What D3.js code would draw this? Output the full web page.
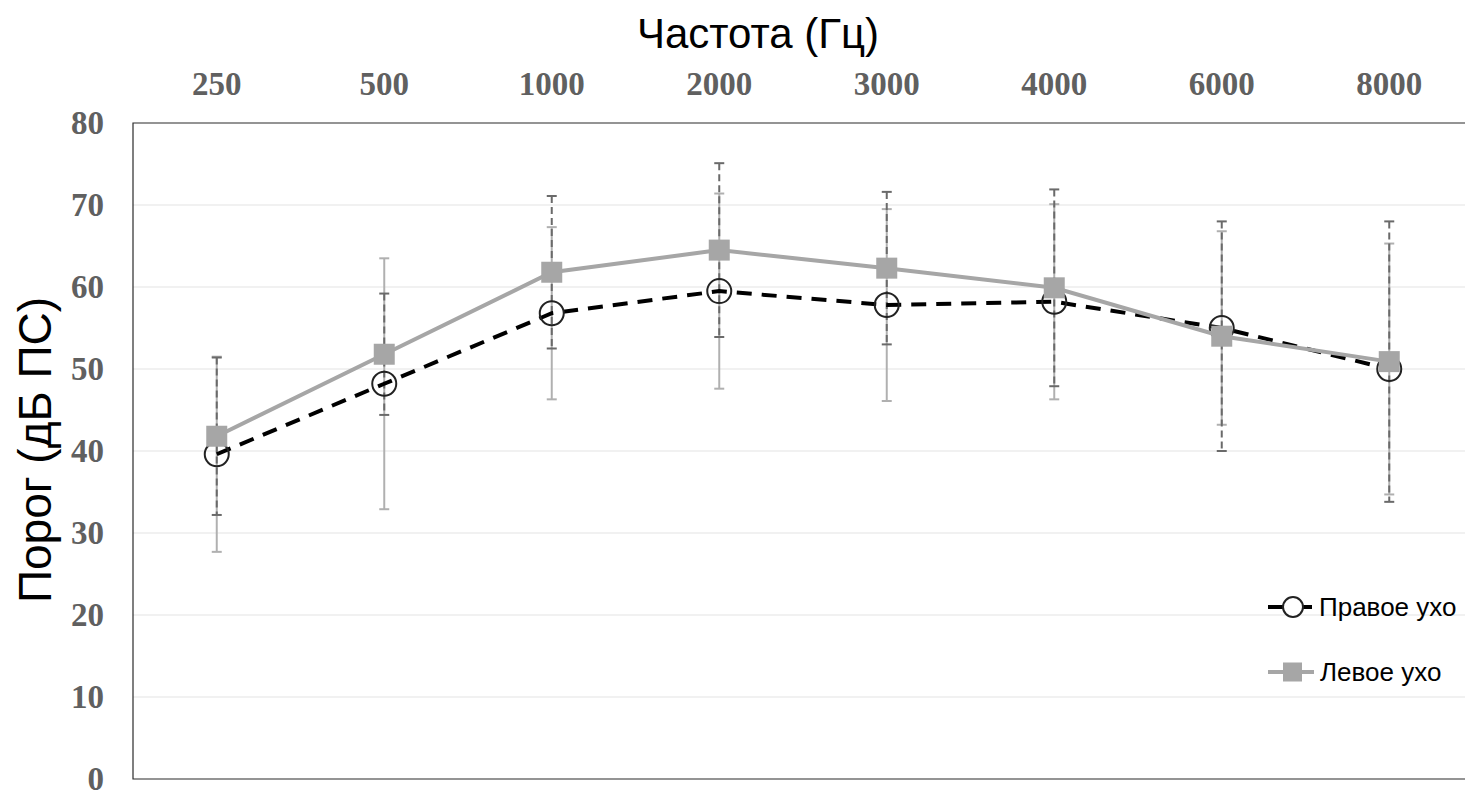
<!DOCTYPE html>
<html>
<head>
<meta charset="utf-8">
<script src="https://cdn.jsdelivr.net/npm/d3@7"></script>
<style>
  html, body { margin: 0; padding: 0; background: #fff; }
  svg { display: block; }
</style>
</head>
<body>
<svg id="chart" width="1465" height="792"></svg>
<script>
// Audiometric thresholds by frequency, mean ± SD
const frequencies = ["250", "500", "1000", "2000", "3000", "4000", "6000", "8000"];
const rightEarMean = [39.6, 48.2, 56.8, 59.5, 57.8, 58.2, 55.0, 50.0];
const rightEarSD   = [11.9, 15.3, 10.5, 11.9, 11.7, 11.9, 11.8, 15.3];
const leftEarMean  = [41.8, 51.8, 61.8, 64.5, 62.3, 59.9, 54.0, 50.9];
const leftEarSD    = [9.6, 7.4, 9.3, 10.6, 9.3, 12.0, 14.0, 17.1];
const yTicks = [0, 10, 20, 30, 40, 50, 60, 70, 80];
const seriesNames = ["Правое ухо", "Левое ухо"];

const svg = d3.select("#chart");
const margin = { left: 133, top: 123, right: -8, bottom: 13 };
const W = 1465, H = 792;
const x0 = margin.left, x1 = W - margin.right;
const y0 = H - margin.bottom, y1 = margin.top;

const x = d3.scaleBand().domain(frequencies).range([x0, x1]).padding(0);
const y = d3.scaleLinear().domain([0, 80]).range([y0, y1]);
const cx = f => x(f) + x.bandwidth() / 2;

// gridlines
svg.append("g")
  .selectAll("line")
  .data(yTicks.filter(t => t > 0 && t < 80))
  .join("line")
  .attr("x1", x0).attr("x2", x1)
  .attr("y1", d => y(d)).attr("y2", d => y(d))
  .attr("stroke", "#ececec").attr("stroke-width", 1.5);

// frame
svg.append("path")
  .attr("d", `M${x1},${y1}H${x0}V${y0}H${x1}`)
  .attr("fill", "none").attr("stroke", "#2b2b2b").attr("stroke-width", 1.2);

// axes
const tickFont = "'Liberation Serif', 'Times New Roman', serif";
const yAxis = d3.axisLeft(y).tickValues(yTicks).tickSize(0).tickPadding(29);
const gy = svg.append("g").attr("transform", `translate(${x0},0)`).call(yAxis);
gy.select(".domain").remove();
gy.selectAll("text")
  .attr("font-family", tickFont)
  .attr("font-weight", "bold").attr("font-size", 33).attr("fill", "#606060")
  .attr("dy", "0.32em");

const xAxis = d3.axisTop(x).tickSize(0).tickPadding(28);
const gx = svg.append("g").attr("transform", `translate(0,${y1})`).call(xAxis);
gx.select(".domain").remove();
gx.selectAll("text")
  .attr("font-family", tickFont)
  .attr("font-weight", "bold").attr("font-size", 33).attr("fill", "#606060");

// axis titles
svg.append("text")
  .attr("x", 758).attr("y", 48)
  .attr("text-anchor", "middle")
  .attr("font-family", "'Liberation Sans', Arial, sans-serif")
  .attr("font-size", 42).attr("fill", "#000")
  .text("Частота (Гц)");

svg.append("text")
  .attr("transform", `translate(51,450) rotate(-90)`)
  .attr("text-anchor", "middle")
  .attr("font-family", "'Liberation Sans', Arial, sans-serif")
  .attr("font-size", 46).attr("fill", "#000")
  .text("Порог (дБ ПС)");

const rightData = frequencies.map((f, i) => ({ f, m: rightEarMean[i], s: rightEarSD[i] }));
const leftData  = frequencies.map((f, i) => ({ f, m: leftEarMean[i], s: leftEarSD[i] }));

// error bars
function errorBars(data, color, dash) {
  const g = svg.append("g").attr("stroke", color).attr("stroke-width", 2).attr("fill", "none");
  g.selectAll("line.v").data(data).join("line").attr("class", "v")
    .attr("x1", d => cx(d.f)).attr("x2", d => cx(d.f))
    .attr("y1", d => y(d.m + d.s)).attr("y2", d => y(d.m - d.s))
    .attr("stroke-dasharray", dash);
  const capW = 5;
  g.selectAll("line.top").data(data).join("line").attr("class", "top")
    .attr("x1", d => cx(d.f) - capW).attr("x2", d => cx(d.f) + capW)
    .attr("y1", d => y(d.m + d.s)).attr("y2", d => y(d.m + d.s));
  g.selectAll("line.bot").data(data).join("line").attr("class", "bot")
    .attr("x1", d => cx(d.f) - capW).attr("x2", d => cx(d.f) + capW)
    .attr("y1", d => y(d.m - d.s)).attr("y2", d => y(d.m - d.s));
}
errorBars(rightData, "#b0b0b0", null);
errorBars(leftData, "#6a6a6a", "7,4");

const line = d3.line().x(d => cx(d.f)).y(d => y(d.m));

// right ear: dashed black line with hollow circles
svg.append("path").datum(rightData).attr("d", line)
  .attr("fill", "none").attr("stroke", "#000").attr("stroke-width", 4)
  .attr("stroke-dasharray", "15,10");

svg.append("g").selectAll("circle").data(rightData).join("circle")
  .attr("cx", d => cx(d.f)).attr("cy", d => y(d.m)).attr("r", 12)
  .attr("fill", "none").attr("stroke", "#222").attr("stroke-width", 2);

// left ear: solid grey line with squares
svg.append("path").datum(leftData).attr("d", line)
  .attr("fill", "none").attr("stroke", "#a6a6a6").attr("stroke-width", 4);

const sq = 21;
svg.append("g").selectAll("rect").data(leftData).join("rect")
  .attr("x", d => cx(d.f) - sq / 2).attr("y", d => y(d.m) - sq / 2)
  .attr("width", sq).attr("height", sq).attr("fill", "#a6a6a6");

// legend
const legend = svg.append("g").attr("font-family", "'Liberation Sans', Arial, sans-serif")
  .attr("font-size", 26);
const lg1 = legend.append("g").attr("transform", "translate(1268,607)");
lg1.append("line").attr("x1", 0).attr("x2", 44).attr("stroke", "#000").attr("stroke-width", 4);
lg1.append("circle").attr("cx", 25).attr("r", 10).attr("fill", "#fff").attr("stroke", "#222").attr("stroke-width", 2);
lg1.append("text").attr("x", 51).attr("dy", "0.35em").text(seriesNames[0]);

const lg2 = legend.append("g").attr("transform", "translate(1268,672)");
lg2.append("line").attr("x1", 0).attr("x2", 46).attr("stroke", "#a6a6a6").attr("stroke-width", 4);
lg2.append("rect").attr("x", 15).attr("y", -9.5).attr("width", 19).attr("height", 19).attr("fill", "#a6a6a6");
lg2.append("text").attr("x", 52).attr("dy", "0.35em").text(seriesNames[1]);
</script>
</body>
</html>
